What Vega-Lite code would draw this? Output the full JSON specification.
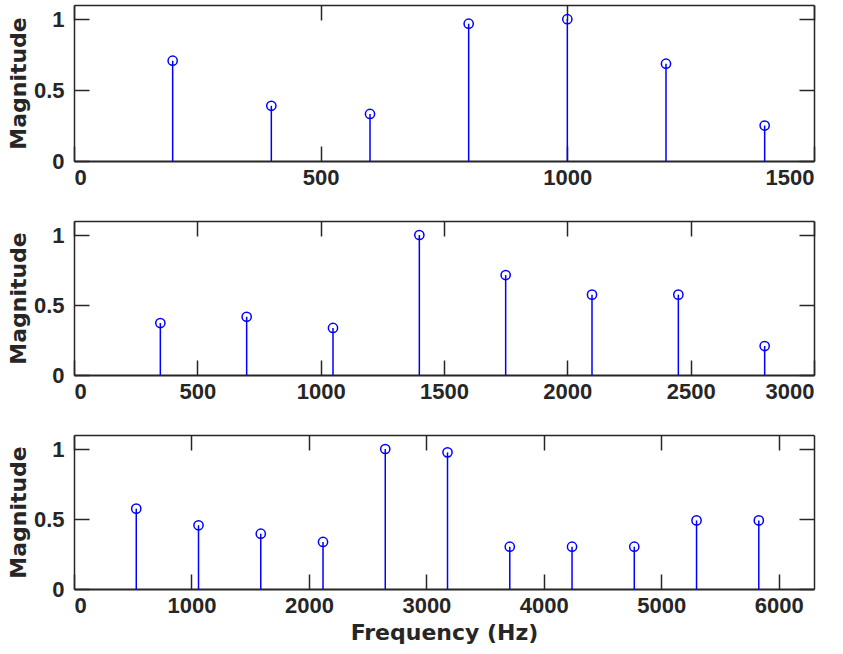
{
  "$schema": "https://vega.github.io/schema/vega-lite/v6.json",
  "background": "white",
  "padding": {"left": 7, "top": 4, "right": 5, "bottom": 5},
  "bounds": "flush",
  "spacing": 60,
  "config": {
    "view": {"stroke": null},
    "axis": {
      "grid": false,
      "labelFont": "Liberation Sans",
      "labelFontWeight": "bold",
      "labelFontSize": 22,
      "labelColor": "#262626",
      "titleFont": "DejaVu Sans",
      "titleFontWeight": "bold",
      "titleFontSize": 22,
      "titleColor": "#262626",
      "domainColor": "#262626",
      "tickColor": "#262626",
      "domainWidth": 1.5,
      "tickWidth": 1.5,
      "tickSize": -15
    },
    "axisLeft": {"labelPadding": 25},
    "axisBottom": {"labelPadding": 21}
  },
  "datasets": {
    "spec": [
      {"panel": 1, "freq": 200, "mag": 0.707},
      {"panel": 1, "freq": 400, "mag": 0.389},
      {"panel": 1, "freq": 600, "mag": 0.332},
      {"panel": 1, "freq": 800, "mag": 0.968},
      {"panel": 1, "freq": 1000, "mag": 1.0},
      {"panel": 1, "freq": 1200, "mag": 0.686},
      {"panel": 1, "freq": 1400, "mag": 0.25},
      {"panel": 2, "freq": 350, "mag": 0.371},
      {"panel": 2, "freq": 700, "mag": 0.416},
      {"panel": 2, "freq": 1050, "mag": 0.336},
      {"panel": 2, "freq": 1400, "mag": 1.0},
      {"panel": 2, "freq": 1750, "mag": 0.714},
      {"panel": 2, "freq": 2100, "mag": 0.574},
      {"panel": 2, "freq": 2450, "mag": 0.574},
      {"panel": 2, "freq": 2800, "mag": 0.207},
      {"panel": 3, "freq": 530, "mag": 0.574},
      {"panel": 3, "freq": 1060, "mag": 0.455},
      {"panel": 3, "freq": 1590, "mag": 0.395},
      {"panel": 3, "freq": 2120, "mag": 0.336},
      {"panel": 3, "freq": 2650, "mag": 1.0},
      {"panel": 3, "freq": 3180, "mag": 0.976},
      {"panel": 3, "freq": 3710, "mag": 0.302},
      {"panel": 3, "freq": 4240, "mag": 0.302},
      {"panel": 3, "freq": 4770, "mag": 0.302},
      {"panel": 3, "freq": 5300, "mag": 0.49},
      {"panel": 3, "freq": 5830, "mag": 0.49}
    ]
  },
  "vconcat": [
    {
      "width": 740,
      "height": 156,
      "data": {"name": "spec"},
      "transform": [{"filter": "datum.panel == 1"}],
      "layer": [
        {
          "mark": {"type": "rule", "color": "#0000ff", "strokeWidth": 1.5},
          "encoding": {
            "x": {"field": "freq", "type": "quantitative", "scale": {"domain": [0, 1500], "nice": false, "zero": false},
                  "axis": {"orient": "bottom", "values": [0, 500, 1000, 1500], "format": "d", "title": null, "domainWidth": 2}},
            "y": {"field": "mag", "type": "quantitative", "scale": {"domain": [0, 1.1], "nice": false},
                  "axis": {"orient": "left", "values": [0, 0.5, 1], "format": "~g", "title": "Magnitude", "titlePadding": 3}},
            "y2": {"datum": 0}
          }
        },
        {
          "mark": {"type": "point", "shape": "circle", "filled": false, "color": "#0000ff", "size": 85, "strokeWidth": 1.5, "opacity": 1},
          "encoding": {
            "x": {"field": "freq", "type": "quantitative", "axis": {"orient": "top", "values": [0, 500, 1000, 1500], "labels": false, "title": null}},
            "y": {"field": "mag", "type": "quantitative", "axis": {"orient": "right", "values": [0, 0.5, 1], "labels": false, "title": null}}
          }
        }
      ],
      "resolve": {"axis": {"x": "independent", "y": "independent"}}
    },
    {
      "width": 740,
      "height": 154,
      "data": {"name": "spec"},
      "transform": [{"filter": "datum.panel == 2"}],
      "layer": [
        {
          "mark": {"type": "rule", "color": "#0000ff", "strokeWidth": 1.5},
          "encoding": {
            "x": {"field": "freq", "type": "quantitative", "scale": {"domain": [0, 3000], "nice": false, "zero": false},
                  "axis": {"orient": "bottom", "values": [0, 500, 1000, 1500, 2000, 2500, 3000], "format": "d", "title": null, "domainWidth": 2}},
            "y": {"field": "mag", "type": "quantitative", "scale": {"domain": [0, 1.1], "nice": false},
                  "axis": {"orient": "left", "values": [0, 0.5, 1], "format": "~g", "title": "Magnitude", "titlePadding": 3}},
            "y2": {"datum": 0}
          }
        },
        {
          "mark": {"type": "point", "shape": "circle", "filled": false, "color": "#0000ff", "size": 85, "strokeWidth": 1.5, "opacity": 1},
          "encoding": {
            "x": {"field": "freq", "type": "quantitative", "axis": {"orient": "top", "values": [0, 500, 1000, 1500, 2000, 2500, 3000], "labels": false, "title": null}},
            "y": {"field": "mag", "type": "quantitative", "axis": {"orient": "right", "values": [0, 0.5, 1], "labels": false, "title": null}}
          }
        }
      ],
      "resolve": {"axis": {"x": "independent", "y": "independent"}}
    },
    {
      "width": 740,
      "height": 154,
      "data": {"name": "spec"},
      "transform": [{"filter": "datum.panel == 3"}],
      "layer": [
        {
          "mark": {"type": "rule", "color": "#0000ff", "strokeWidth": 1.5},
          "encoding": {
            "x": {"field": "freq", "type": "quantitative", "scale": {"domain": [0, 6300], "nice": false, "zero": false},
                  "axis": {"orient": "bottom", "values": [0, 1000, 2000, 3000, 4000, 5000, 6000], "format": "d", "title": "Frequency (Hz)", "titlePadding": 6, "domainWidth": 2}},
            "y": {"field": "mag", "type": "quantitative", "scale": {"domain": [0, 1.1], "nice": false},
                  "axis": {"orient": "left", "values": [0, 0.5, 1], "format": "~g", "title": "Magnitude", "titlePadding": 3}},
            "y2": {"datum": 0}
          }
        },
        {
          "mark": {"type": "point", "shape": "circle", "filled": false, "color": "#0000ff", "size": 85, "strokeWidth": 1.5, "opacity": 1},
          "encoding": {
            "x": {"field": "freq", "type": "quantitative", "axis": {"orient": "top", "values": [0, 1000, 2000, 3000, 4000, 5000, 6000], "labels": false, "title": null}},
            "y": {"field": "mag", "type": "quantitative", "axis": {"orient": "right", "values": [0, 0.5, 1], "labels": false, "title": null}}
          }
        }
      ],
      "resolve": {"axis": {"x": "independent", "y": "independent"}}
    }
  ]
}
